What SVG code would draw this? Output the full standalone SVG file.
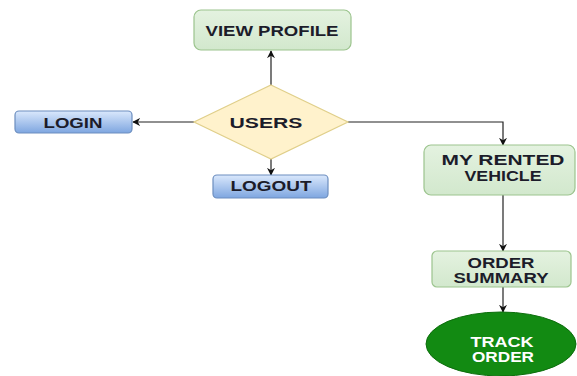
<svg xmlns="http://www.w3.org/2000/svg" width="577" height="376" viewBox="0 0 577 376">
<defs>
<linearGradient id="blueGrad" x1="0" y1="0" x2="0" y2="1">
<stop offset="0" stop-color="#dae8fc"/>
<stop offset="1" stop-color="#7ea6e0"/>
</linearGradient>
<linearGradient id="greenGrad" x1="0" y1="0" x2="0" y2="1">
<stop offset="0" stop-color="#e4f2e0"/>
<stop offset="1" stop-color="#d2e8cd"/>
</linearGradient>
<marker id="arrow" viewBox="0 0 10 10" refX="9" refY="5" markerWidth="8" markerHeight="8" orient="auto" markerUnits="userSpaceOnUse">
<path d="M0,0 L10,5 L0,10 L3,5 Z" fill="#111"/>
</marker>
</defs>
<style>
.green{fill:url(#greenGrad);stroke:#9cc48e;stroke-width:1.2}
.blue{fill:url(#blueGrad);stroke:#6c8ebf;stroke-width:1.2}
.diamond{fill:#fff2cc;stroke:#e0cf8a;stroke-width:1.2}
.oval{fill:#128a12;stroke:#0d6e0d;stroke-width:1}
.lbl{font-family:"Liberation Sans",Arial,sans-serif;font-weight:bold;font-size:14px;fill:#1c1c2a;text-anchor:middle;dominant-baseline:central}
.wlbl{fill:#ffffff}
.conn{fill:none;stroke:#222;stroke-width:1.2;marker-end:url(#arrow)}
</style>
<g id="connectors">
<path class="conn" d="M271,85 L271,51"/>
<path class="conn" d="M194,122 L133,122"/>
<path class="conn" d="M271,159 L271,175"/>
<path class="conn" d="M348,122 L503,122 L503,145"/>
<path class="conn" d="M503,195 L503,251"/>
<path class="conn" d="M503,287 L503,312"/>
</g>
<g id="view-profile">
<rect class="green" x="194" y="10" width="157" height="40" rx="7"/>
<text class="lbl" x="272" y="31" textLength="133" lengthAdjust="spacingAndGlyphs">VIEW PROFILE</text>
</g>
<g id="users">
<polygon class="diamond" points="271,85 348,122 271,159 194,122"/>
<text class="lbl" x="266" y="122" font-size="15" textLength="73" lengthAdjust="spacingAndGlyphs" style="font-size:15px">USERS</text>
</g>
<g id="login">
<rect class="blue" x="15" y="111" width="117" height="22" rx="4"/>
<text class="lbl" x="73" y="123" textLength="59" lengthAdjust="spacingAndGlyphs">LOGIN</text>
</g>
<g id="logout">
<rect class="blue" x="213" y="175" width="115" height="23" rx="4"/>
<text class="lbl" x="271" y="186" textLength="81" lengthAdjust="spacingAndGlyphs">LOGOUT</text>
</g>
<g id="my-rented-vehicle">
<rect class="green" x="424" y="145" width="151" height="50" rx="7"/>
<text class="lbl" x="503" y="160" textLength="123" lengthAdjust="spacingAndGlyphs">MY RENTED</text>
<text class="lbl" x="503" y="176" textLength="77" lengthAdjust="spacingAndGlyphs">VEHICLE</text>
</g>
<g id="order-summary">
<rect class="green" x="432" y="251" width="139" height="36" rx="5"/>
<text class="lbl" x="501" y="263" textLength="67" lengthAdjust="spacingAndGlyphs">ORDER</text>
<text class="lbl" x="501" y="278" textLength="95" lengthAdjust="spacingAndGlyphs">SUMMARY</text>
</g>
<g id="track-order">
<ellipse class="oval" cx="501" cy="344" rx="75" ry="32"/>
<text class="lbl wlbl" x="502" y="342" textLength="63" lengthAdjust="spacingAndGlyphs">TRACK</text>
<text class="lbl wlbl" x="503" y="357" textLength="62" lengthAdjust="spacingAndGlyphs">ORDER</text>
</g>
</svg>
